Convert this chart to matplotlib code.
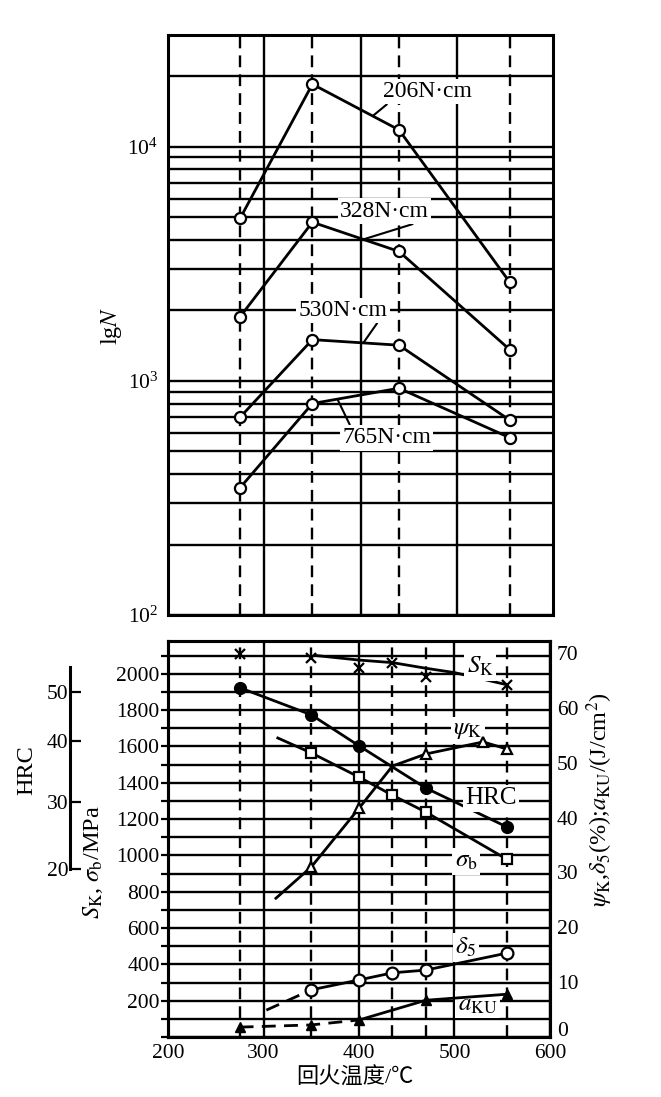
import numpy as np
import matplotlib
matplotlib.use("Agg")
import matplotlib.pyplot as plt
from matplotlib.ticker import MultipleLocator, LogLocator, NullFormatter, LogFormatterMathtext

plt.rcParams['font.family'] = ['Liberation Serif', 'Noto Sans CJK SC']
plt.rcParams['mathtext.fontset'] = 'stix'

# ---------------- top panel data: cycles to failure (lgN) vs tempering temperature
temps_top = [275, 350, 440, 555]
life_206 = [4950, 18500, 11800, 2640]
life_328 = [1880, 4760, 3570, 1360]
life_530 = [700, 1500, 1420, 680]
life_765 = [350, 800, 930, 572]
load_labels = ['206N·cm', '328N·cm', '530N·cm', '765N·cm']
label_xy = [(470, 17200), (425, 5300), (382, 2000), (427, 572)]
leader_xy = [(413, 13560), (403, 4020), (403, 1453), (376, 836)]
leader_rel = [(0.07, 0.0), (0.9, 0.0), (0.9, 0.0), (0.1, 1.0)]

# ---------------- bottom panel data: mechanical properties vs tempering temperature
temps_bot = [275, 350, 435, 470, 555]

# S_K (MPa): scatter points and the smoothed curve
sk_T = [275, 350, 400, 435, 470, 555]
sk_pts = [2110, 2088, 2033, 2061, 1983, 1939]
sk_curve_T = [355, 400, 435, 470, 500, 555]
sk_curve = [2100, 2075, 2061, 2030, 2006, 1939]

# HRC
hrc_T = [275, 350, 400, 470, 555]
hrc = [50.8, 45.3, 39.2, 32.3, 26.3]
hrc_scale = [20, 30, 40, 50, 55]
hrc_scale_mpa = [923, 1293, 1630, 1901, 2039]

# sigma_b (MPa)
sb_line_T = [315, 350, 400, 435, 470, 555]
sb_line = [1646, 1564, 1431, 1331, 1238, 978]
sb_T = [350, 400, 435, 470, 555]
sb_pts = [1564, 1431, 1331, 1238, 978]

# psi_K (%)
psi_line_T = [313, 350, 400, 435, 470, 530, 555]
psi_line = [25.3, 31.0, 41.7, 49.4, 51.6, 53.8, 52.5]
psi_T = [350, 400, 470, 530, 555]
psi_pts = [31.0, 41.7, 51.6, 53.8, 52.5]

# delta_5 (%)
d5_dash_T = [303, 350]
d5_dash = [4.9, 8.6]
d5_T = [350, 400, 435, 470, 555]
d5 = [8.6, 10.4, 11.7, 12.2, 15.3]

# a_KU (J/cm2)
aku_dash_T = [275, 350, 400]
aku_dash = [1.8, 2.2, 3.1]
aku_T = [400, 435, 470, 555]
aku = [3.1, 4.9, 6.7, 7.8]
aku_pts_T = [275, 350, 400, 470, 555]
aku_pts = [1.8, 2.2, 3.1, 6.7, 7.8]

W, H = 661, 1097
fig = plt.figure(figsize=(W / 100, H / 100), dpi=100)

LW = 2.0
GW = 1.7
FS = 15.5
LAB = 17.5
dash = (0, (5, 3))

# ================= top panel
ax1 = fig.add_axes([168 / W, 1 - 615 / H, 385 / W, 580 / H])
ax1.set_yscale('log')
ax1.set_xlim(200, 600)
ax1.set_ylim(100, 30000)
ax1.yaxis.set_major_locator(LogLocator(base=10, numticks=10))
ax1.yaxis.set_major_formatter(LogFormatterMathtext())
ax1.yaxis.set_minor_locator(LogLocator(base=10, subs=range(2, 10), numticks=20))
ax1.yaxis.set_minor_formatter(NullFormatter())
ax1.set_xticks([300, 400, 500])
ax1.set_xticklabels([])
ax1.tick_params(which='both', length=0, labelsize=FS, pad=7)
ax1.grid(which='both', axis='y', color='k', lw=GW)
ax1.grid(which='major', axis='x', color='k', lw=GW)
for t in temps_top:
    ax1.axvline(t, color='k', lw=GW, ls=dash, zorder=1)
for s in ax1.spines.values():
    s.set_linewidth(2.2)

for life, lab, lxy, pxy, rel in zip([life_206, life_328, life_530, life_765],
                                    load_labels, label_xy, leader_xy, leader_rel):
    ax1.plot(temps_top, life, color='k', lw=LW, marker='o', ms=8,
             mfc='white', mec='k', mew=1.6, zorder=3)
    ax1.annotate(lab, xy=pxy, xytext=lxy, ha='center', va='center', fontsize=17,
                 bbox=dict(boxstyle='square,pad=0.1', fc='white', ec='none'),
                 arrowprops=dict(arrowstyle='-', lw=1.5, color='k', shrinkA=0,
                                 shrinkB=0, relpos=rel),
                 zorder=4)

fig.text(112 / W, 1 - 326 / H, r'lg$N$', rotation=90, ha='center', va='center', fontsize=LAB)

# ================= bottom panel
ax = fig.add_axes([168 / W, 1 - 1037 / H, 382 / W, 396 / H])
ax.set_xlim(200, 600)
ax.set_ylim(0, 2180)
ax.set_xticks([200, 300, 400, 500, 600])
ax.set_yticks(range(200, 2001, 200))
ax.yaxis.set_minor_locator(MultipleLocator(100))
ax.tick_params(axis='x', length=0, labelsize=FS, pad=5)
ax.tick_params(axis='y', which='both', left=False, right=True, direction='out',
               length=5, width=1.6, labelsize=FS, pad=1)
ax.grid(which='both', axis='y', color='k', lw=GW)
ax.grid(which='major', axis='x', color='k', lw=GW)
for t in temps_bot:
    ax.axvline(t, color='k', lw=GW, ls=dash, zorder=1)
for s in ax.spines.values():
    s.set_linewidth(2.2)

# S_K
ax.plot(sk_T, sk_pts, ls='none', marker='x', ms=7, mew=1.6, color='k', zorder=3)
ax.plot(sk_curve_T, sk_curve, color='k', lw=LW, zorder=3)
# HRC (drawn on the stress scale through the HRC axis mapping)
ax.plot(hrc_T, np.interp(hrc, hrc_scale, hrc_scale_mpa), color='k', lw=LW,
        marker='o', ms=8.5, mfc='k', mec='k', zorder=3)
# sigma_b
ax.plot(sb_line_T, sb_line, color='k', lw=LW, zorder=3)
ax.plot(sb_T, sb_pts, ls='none', marker='s', ms=6.5, mfc='white', mec='k', mew=1.6, zorder=4)

txt = dict(ha='center', va='center', fontsize=18, zorder=4,
           bbox=dict(boxstyle='square,pad=0.1', fc='white', ec='none'))
ax.text(527, 2039, r'$S_\mathrm{K}$', **txt)
ax.text(514, 1690, r'$\psi_\mathrm{K}$', **txt)
ax.text(538, 1315, 'HRC', **txt)
ax.text(512, 967, r'$\sigma_\mathrm{b}$', **txt)
ax.text(512, 492, r'$\delta_5$', **txt)
ax.text(524, 177, r'$a_\mathrm{KU}$', **txt)

# right axis: percent / impact toughness
ax2 = ax.twinx()
ax2.set_ylim(0, 72.2)
ax2.set_yticks(range(10, 71, 10))
ax2.tick_params(axis='y', length=0, labelsize=FS, pad=5)
ax2.annotate('0', xy=(1, 0), xycoords='axes fraction', xytext=(5, 4),
             textcoords='offset points', ha='left', va='center', fontsize=FS)
for s in ax2.spines.values():
    s.set_linewidth(2.2)

ax2.plot(psi_line_T, psi_line, color='k', lw=LW, zorder=3)
ax2.plot(psi_T, psi_pts, ls='none', marker='^', ms=7, mfc='white', mec='k', mew=1.6, zorder=4)
ax2.plot(d5_dash_T, d5_dash, color='k', lw=LW, ls=dash, zorder=3)
ax2.plot(d5_T, d5, color='k', lw=LW, marker='o', ms=8.5, mfc='white', mec='k', mew=1.6, zorder=4)
ax2.plot(aku_dash_T, aku_dash, color='k', lw=LW, ls=dash, zorder=3)
ax2.plot(aku_T, aku, color='k', lw=LW, zorder=3)
ax2.plot(aku_pts_T, aku_pts, ls='none', marker='^', ms=7.5, mfc='k', mec='k', zorder=4)

# separate HRC scale on the far left
axh = fig.add_axes([70 / W, 1 - 1037 / H, 0.001, 396 / H])
axh.set_ylim(0, 2180)
axh.patch.set_visible(False)
for side in ['top', 'right', 'bottom']:
    axh.spines[side].set_visible(False)
axh.spines['left'].set_linewidth(2.2)
axh.spines['left'].set_bounds(hrc_scale_mpa[0], hrc_scale_mpa[-1])
axh.set_xticks([])
axh.set_yticks(np.interp(hrc_scale[:4], hrc_scale, hrc_scale_mpa))
axh.set_yticklabels([str(v) for v in hrc_scale[:4]])
axh.tick_params(axis='y', direction='in', length=8, width=1.6, labelsize=FS, pad=1)

fig.text(27 / W, 1 - 770 / H, 'HRC', rotation=90, ha='center', va='center', fontsize=LAB)
fig.text(93 / W, 1 - 862 / H, r'$S_\mathrm{K}$, $\sigma_\mathrm{b}$/MPa', rotation=90,
         ha='center', va='center', fontsize=LAB)
fig.text(600 / W, 1 - 800 / H, r'$\psi_\mathrm{K}$,$\delta_5$(%);$a_\mathrm{KU}$/(J/cm$^2$)',
         rotation=90, ha='center', va='center', fontsize=LAB)
fig.text(355 / W, 1 - 1078 / H, '回火温度/℃', ha='center', va='center', fontsize=16)

fig.savefig('out.png', dpi=100, facecolor='white')
